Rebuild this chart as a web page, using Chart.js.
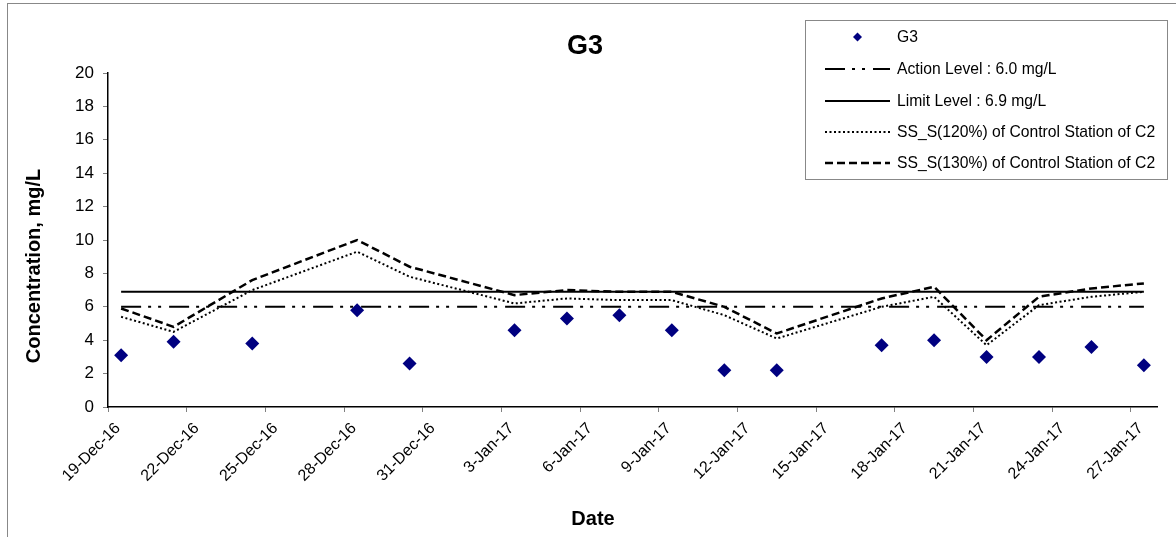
<!DOCTYPE html>
<html>
<head>
<meta charset="utf-8">
<title>G3</title>
<script src="https://cdn.jsdelivr.net/npm/chart.js@4.4.1/dist/chart.umd.min.js"></script>
<style>
  html, body { margin: 0; padding: 0; background: #fff; }
  canvas { display: block; }
</style>
</head>
<body>
<canvas id="chart" width="1176" height="537"></canvas>
<script>
// ---- chart data ----
const chartTitle = 'G3';
const xAxisTitle = 'Date';
const yAxisTitle = 'Concentration, mg/L';

// x tick labels, one every 3 days starting 19-Dec-16
const tickLabels = ['19-Dec-16', '22-Dec-16', '25-Dec-16', '28-Dec-16', '31-Dec-16',
  '3-Jan-17', '6-Jan-17', '9-Jan-17', '12-Jan-17', '15-Jan-17', '18-Jan-17',
  '21-Jan-17', '24-Jan-17', '27-Jan-17'];
const tickStepDays = 3;
const axisDays = 40;

// sampling times, in days counted from 19-Dec-16 00:00
const sampleDays = [0.5, 2.5, 5.5, 9.5, 11.5, 15.5, 17.5, 19.5, 21.5, 23.5, 25.5,
  29.5, 31.5, 33.5, 35.5, 37.5, 39.5];

// measured suspended solids at G3 (mg/L)
const g3Values = [3.1, 3.9, 3.8, 5.8, 2.6, 4.6, 5.3, 5.5, 4.6, 2.2, 2.2,
  3.7, 4.0, 3.0, 3.0, 3.6, 2.5];

// control station C2 derived criteria (mg/L)
const ss120Values = [5.4, 4.5, 7.0, 9.3, 7.8, 6.2, 6.5, 6.4, 6.4, 5.5, 4.1,
  6.0, 6.6, 3.7, 6.1, 6.6, 6.9];
const ss130Values = [5.9, 4.8, 7.6, 10.0, 8.4, 6.7, 7.0, 6.9, 6.9, 6.0, 4.4,
  6.5, 7.2, 4.0, 6.6, 7.1, 7.4];

const actionLevel = 6.0;
const limitLevel = 6.9;

const seriesNames = [
  'G3',
  'Action Level : 6.0 mg/L',
  'Limit Level : 6.9 mg/L',
  'SS_S(120%) of Control Station of C2',
  'SS_S(130%) of Control Station of C2'
];

const FONT = '"Liberation Sans", Arial, Helvetica, sans-serif';

// ---- helpers ----
const pairs = (xs, ys) => xs.map((x, i) => ({ x: x, y: ys[i] }));
const flatLine = (level) => [
  { x: sampleDays[0], y: level },
  { x: sampleDays[sampleDays.length - 1], y: level }
];

// frame, title, axis titles and the boxed legend
const decorations = {
  id: 'decorations',
  beforeDraw(chart) {
    const c = chart.ctx;
    c.save();
    c.fillStyle = '#fff';
    c.fillRect(0, 0, chart.width, chart.height);
    c.strokeStyle = '#888';
    c.lineWidth = 1;
    c.strokeRect(7.5, 3.5, chart.width + 20, chart.height + 20);
    c.restore();
  },
  afterDraw(chart) {
    const c = chart.ctx;
    c.save();
    c.fillStyle = '#000';
    c.textAlign = 'center';
    c.textBaseline = 'middle';

    c.font = 'bold 27px ' + FONT;
    c.fillText(chartTitle, 585, 47);

    c.font = 'bold 20px ' + FONT;
    c.fillText(xAxisTitle, 593, 519);

    c.save();
    c.translate(34, 266);
    c.rotate(-Math.PI / 2);
    c.fillText(yAxisTitle, 0, 0);
    c.restore();

    // legend box
    const bx = 805.5, by = 20.5, bw = 362, bh = 159;
    c.fillStyle = '#fff';
    c.fillRect(bx, by, bw, bh);
    c.strokeStyle = '#888';
    c.lineWidth = 1;
    c.strokeRect(bx, by, bw, bh);

    const rows = [37, 69, 101, 132, 163];
    const x0 = 825, x1 = 890, tx = 897;
    c.font = '15.7px ' + FONT;
    c.textAlign = 'left';
    chart.data.datasets.forEach((ds, i) => {
      const y = rows[i];
      if (ds.showLine) {
        c.save();
        c.strokeStyle = ds.borderColor;
        c.lineWidth = ds.borderWidth;
        c.setLineDash(ds.borderDash || []);
        c.beginPath();
        c.moveTo(x0, y);
        c.lineTo(x1, y);
        c.stroke();
        c.restore();
      } else {
        const cx = (x0 + x1) / 2, r = 4.5;
        c.beginPath();
        c.moveTo(cx, y - r);
        c.lineTo(cx + r, y);
        c.lineTo(cx, y + r);
        c.lineTo(cx - r, y);
        c.closePath();
        c.fillStyle = ds.backgroundColor;
        c.fill();
      }
      c.fillStyle = '#000';
      c.fillText(ds.label, tx, y + 1);
    });
    c.restore();
  }
};

new Chart(document.getElementById('chart'), {
  type: 'scatter',
  data: {
    datasets: [
      {
        label: seriesNames[0],
        data: pairs(sampleDays, g3Values),
        showLine: false,
        pointStyle: 'rectRot',
        pointRadius: 7,
        backgroundColor: '#000080',
        borderColor: '#000080',
        borderWidth: 0,
        order: 0
      },
      {
        label: seriesNames[1],
        data: flatLine(actionLevel),
        showLine: true,
        borderColor: '#000',
        borderWidth: 2,
        borderDash: [20, 7, 3, 7, 3, 8],
        pointRadius: 0,
        order: 4
      },
      {
        label: seriesNames[2],
        data: flatLine(limitLevel),
        showLine: true,
        borderColor: '#000',
        borderWidth: 2,
        pointRadius: 0,
        order: 3
      },
      {
        label: seriesNames[3],
        data: pairs(sampleDays, ss120Values),
        showLine: true,
        borderColor: '#000',
        borderWidth: 2,
        borderDash: [2, 2.5],
        pointRadius: 0,
        tension: 0,
        order: 2
      },
      {
        label: seriesNames[4],
        data: pairs(sampleDays, ss130Values),
        showLine: true,
        borderColor: '#000',
        borderWidth: 2.5,
        borderDash: [8, 4],
        pointRadius: 0,
        tension: 0,
        order: 1
      }
    ]
  },
  options: {
    responsive: false,
    animation: false,
    devicePixelRatio: 1,
    layout: { padding: { left: 0, right: 19, top: 73, bottom: 0 } },
    plugins: {
      legend: { display: false },
      title: { display: false },
      tooltip: { enabled: false }
    },
    scales: {
      x: {
        type: 'linear',
        min: 0,
        max: axisDays,
        afterFit(scale) { scale.height = 130; },
        ticks: {
          stepSize: tickStepDays,
          includeBounds: false,
          autoSkip: false,
          minRotation: 45,
          maxRotation: 45,
          padding: 7,
          labelOffset: 10,
          color: '#000',
          font: { family: FONT, size: 16 },
          callback: (v) => tickLabels[Math.round(v / tickStepDays)]
        },
        grid: {
          drawOnChartArea: false,
          drawTicks: true,
          tickLength: 5,
          color: '#808080',
          lineWidth: 1
        },
        border: { display: true, color: '#000', width: 1.5 }
      },
      y: {
        min: 0,
        max: 20,
        afterFit(scale) { scale.width = 108; },
        ticks: {
          stepSize: 2,
          padding: 9,
          color: '#000',
          font: { family: FONT, size: 17 }
        },
        grid: {
          drawOnChartArea: false,
          drawTicks: true,
          tickLength: 5,
          color: '#808080',
          lineWidth: 1
        },
        border: { display: true, color: '#000', width: 1.5 }
      }
    }
  },
  plugins: [decorations]
});
</script>
</body>
</html>
